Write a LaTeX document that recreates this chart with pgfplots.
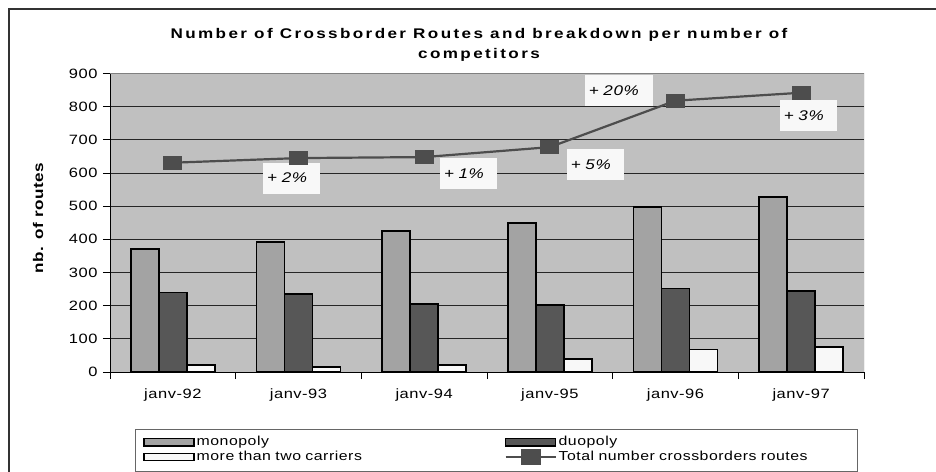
\documentclass[border=0pt]{standalone}
\usepackage{fontspec}
\setmainfont[FakeStretch=1.22, LetterSpace=4]{Liberation Sans}
\newfontfamily\titlefont[FakeStretch=1.22, LetterSpace=17]{Liberation Sans}
\usepackage{pgfplots}
\pgfplotsset{compat=1.18}
\definecolor{plotbg}{HTML}{C0C0C0}
\definecolor{mono}{HTML}{A3A3A3}
\definecolor{duo}{HTML}{575757}
\definecolor{multi}{HTML}{F8F8F8}
\definecolor{totline}{HTML}{4D4D4D}
\definecolor{annotbg}{HTML}{F8F8F8}

\begin{document}
\begin{tikzpicture}[x=1pt, y=1pt,
  annot/.style={fill=annotbg, inner xsep=4pt, inner ysep=0pt, minimum height=31pt,
    align=left, font=\fontsize{14}{16}\selectfont\itshape}]
\begin{axis}[
  at={(110pt,99pt)}, anchor=south west,
  scale only axis, width=754pt, height=298.5pt,
  xmin=-0.5, xmax=5.5, ymin=0, ymax=900,
  axis x line*=bottom, axis y line*=left,
  axis line style={black, line width=1pt, -},
  axis background/.style={fill=plotbg},
  ytick={0,100,...,900},
  ymajorgrids, grid style={black!85, line width=0.9pt},
  xtick={0,...,5},
  xticklabels={janv-92,janv-93,janv-94,janv-95,janv-96,janv-97},
  major x tick style={draw=none},
  minor xtick={-0.5,0.5,...,5.5},
  minor x tick style={black, line width=0.8pt},
  y tick style={black, line width=0.8pt},
  tick align=outside, major tick length=7pt, minor tick length=7pt,
  /pgf/number format/assume math mode=true,
  tick label style={font=\fontsize{13.5}{16}\selectfont},
  xticklabel style={yshift=-6pt},
  yticklabel style={xshift=-2pt},
  legend columns=2,
  legend cell align=left,
  legend style={at={(0.0332,-0.191)}, anchor=north west,
    draw=black!60, line width=0.8pt, fill=white,
    inner xsep=8pt, inner ysep=6pt, row sep=0pt,
    font=\fontsize{13}{15}\selectfont,
    nodes={inner xsep=2pt, inner ysep=0pt, text height=10pt, text depth=3.5pt, text width=289pt},
    /tikz/every even column/.append style={column sep=17pt}},
]
\addplot[ybar, bar width=28pt, bar shift=-28pt, fill=mono, draw=black, line width=1.8pt,
  legend image code/.code={\draw[fill=mono, draw=black, line width=1.2pt] (0pt,-3.8pt) rectangle (50pt,3.8pt);}]
  coordinates {(0,372) (1,392) (2,425) (3,450) (4,498) (5,528)};
\addlegendentry{monopoly}
\addplot[ybar, bar width=28pt, bar shift=0pt, fill=duo, draw=black, line width=1.8pt,
  legend image code/.code={\draw[fill=duo, draw=black, line width=1.2pt] (0pt,-3.8pt) rectangle (50pt,3.8pt);}]
  coordinates {(0,240) (1,236) (2,206) (3,202) (4,252) (5,244)};
\addlegendentry{duopoly}
\addplot[ybar, bar width=28pt, bar shift=28pt, fill=multi, draw=black, line width=1.8pt,
  legend image code/.code={\draw[fill=multi, draw=black, line width=1.2pt] (0pt,-3.8pt) rectangle (50pt,3.8pt);}]
  coordinates {(0,20) (1,14) (2,20) (3,38) (4,68) (5,76)};
\addlegendentry{more than two carriers}
\addplot[totline, line width=2.2pt, mark=square*, mark size=6.5pt,
  mark options={xscale=1.38, fill=totline, draw=totline, line width=0pt},
  legend image code/.code={
    \draw[totline, line width=2pt] (0pt,0pt) -- (50pt,0pt);
    \fill[totline] (16pt,-7pt) rectangle (34pt,7pt);}]
  coordinates {(0,631) (1,645) (2,648) (3,678) (4,818) (5,842)};
\addlegendentry{Total number crossborders routes}

\draw[black!50, line width=1pt] (rel axis cs:0,1) -- (rel axis cs:1,1) -- (rel axis cs:1,0);

\node[annot, text width=49pt] at (axis cs:0.946,584.6) {+ 2\%};
\node[annot, text width=49pt] at (axis cs:2.353,597.5) {+ 1\%};
\node[annot, text width=49pt] at (axis cs:3.362,626) {+ 5\%};
\node[annot, text width=60pt] at (axis cs:3.549,849) {+ 20\%};
\node[annot, text width=49pt] at (axis cs:5.057,774) {+ 3\%};
\end{axis}

\node[align=center, font=\fontsize{14}{20}\selectfont\titlefont\bfseries] at (479,426)
  {Number of Crossborder Routes and breakdown per number of\\competitors};
\node[rotate=90, font=\fontsize{14}{16}\selectfont\bfseries] at (38,253) {nb. of routes};

\draw[black!80, line width=1.5pt] (9,-20) -- (9,462) -- (960,462);
\pgfresetboundingbox
\useasboundingbox (0,0) rectangle (936,471);
\end{tikzpicture}
\end{document}
